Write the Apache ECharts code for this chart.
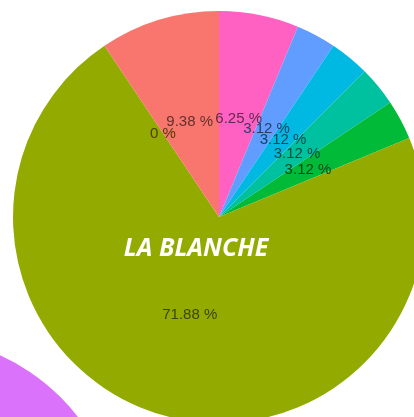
<!DOCTYPE html>
<html>
<head>
<meta charset="utf-8">
<script src="https://cdn.jsdelivr.net/npm/echarts@6/dist/echarts.min.js"></script>
<style>
  html, body { margin: 0; padding: 0; background: #fff; }
  #chart { width: 414px; height: 417px; }
</style>
</head>
<body>
<div id="chart"></div>
<script>
// slices, clockwise from 12 o'clock
const categories = ['A', 'B', 'C', 'D', 'E', 'F', 'G', 'H']
const shares = [6.25, 3.12, 3.12, 3.12, 3.12, 71.88, 0, 9.38]
const sliceColors = ['#FF61C3', '#619CFF', '#00B9E3', '#00C19F', '#00BA38', '#93AA00', '#D39200', '#F8766D']

// the neighbouring pie, only a corner of it shows
const otherCategories = ['I']
const otherShares = [100]

const darken = (hex, k) => {
    const n = parseInt(hex.slice(1), 16)
    const r = Math.round(((n >> 16) & 255) * k)
    const g = Math.round(((n >> 8) & 255) * k)
    const b = Math.round((n & 255) * k)
    return `rgb(${r},${g},${b})`
}

const pieCenter = [219, 217]
const pieRadius = 206
const labelRadius = pieRadius * 0.49

// mid angle of each slice, radians clockwise from 12 o'clock
const total = shares.reduce((a, b) => a + b, 0)
const midAngles = []
let acc = 0
shares.forEach(v => {
    midAngles.push((acc + v / 2) / total * Math.PI * 2)
    acc += v
})

const chart = echarts.init(document.getElementById('chart'))

const option = {
    animation: false,
    title: {
        text: 'LA BLANCHE',
        left: 191,
        top: 231,
        textAlign: 'center',
        textStyle: {
            color: '#fff',
            fontFamily: 'Open Sans',
            fontStyle: 'italic',
            fontWeight: 'bold',
            fontSize: 25
        }
    },
    series: [
        {
            type: 'pie',
            center: [-85, 543],
            radius: pieRadius,
            silent: true,
            label: {show: false},
            labelLine: {show: false},
            data: otherCategories.map((c, i) => ({
                name: c,
                value: otherShares[i],
                itemStyle: {color: '#DB72FB'}
            }))
        },
        {
            type: 'pie',
            center: pieCenter,
            radius: pieRadius,
            startAngle: 90,
            clockwise: true,
            minAngle: 0,
            avoidLabelOverlap: false,
            itemStyle: {borderWidth: 0},
            label: {
                show: true,
                position: 'inside',
                fontFamily: 'Liberation Sans',
                fontSize: 15,
                formatter: (p) => `${p.value} %`
            },
            labelLine: {show: false},
            labelLayout: (params) => {
                const a = midAngles[params.dataIndex]
                return {
                    x: pieCenter[0] + labelRadius * Math.sin(a),
                    y: pieCenter[1] - labelRadius * Math.cos(a) + 1,
                    align: 'center',
                    verticalAlign: 'middle',
                    hideOverlap: false
                }
            },
            data: categories.map((c, i) => ({
                name: c,
                value: shares[i],
                itemStyle: {color: sliceColors[i]},
                label: {color: darken(sliceColors[i], 0.4)}
            }))
        }
    ]
}

chart.setOption(option)
</script>
</body>
</html>
